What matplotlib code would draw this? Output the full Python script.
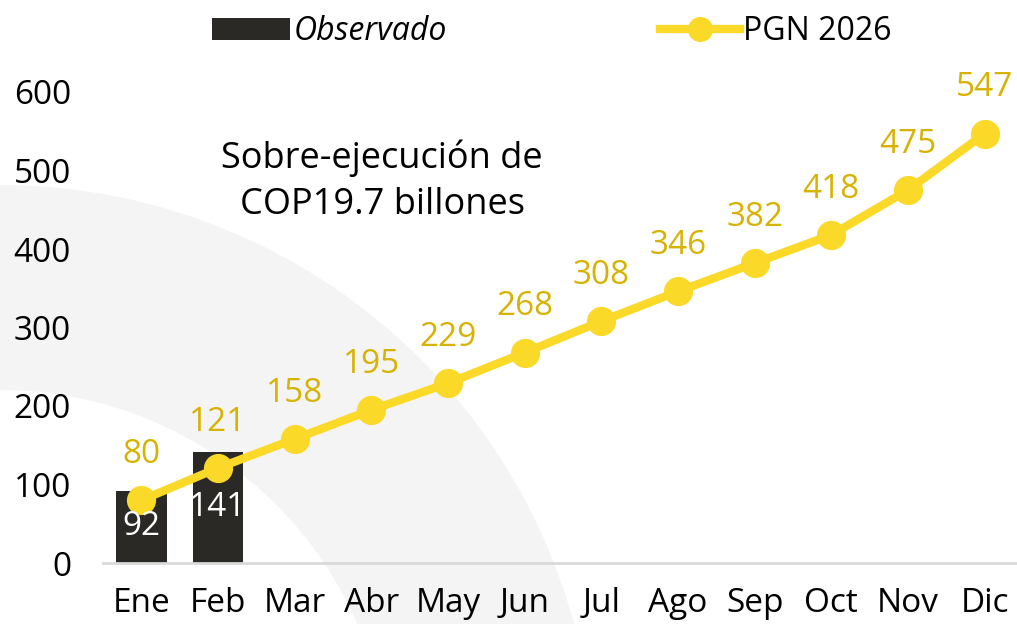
import numpy as np
from matplotlib import pyplot as plt
from matplotlib.patches import Wedge
from matplotlib.lines import Line2D
from matplotlib.patches import Patch

# Datos
meses = ["Ene", "Feb", "Mar", "Abr", "May", "Jun", "Jul", "Ago", "Sep", "Oct", "Nov", "Dic"]
observado = [92, 141]
pgn_2026 = [80, 121, 158, 195, 229, 268, 308, 346, 382, 418, 475, 547]

plt.rcParams['font.family'] = ['Open Sans', 'DejaVu Sans']

color_barra = "#2b2926"
color_linea = "#fbd928"
color_etiqueta = "#d8b200"

fig = plt.figure(figsize=(10.17, 6.24), dpi=100)

# Marca de agua de fondo (muy tenue), en un eje de fondo
fondo = fig.add_axes([0, 0, 1, 1], zorder=-1)
fondo.set_axis_off()
marca = Wedge((0, -1.56), 5.95, 0, 90, width=2.05, facecolor="#f4f4f4",
              edgecolor="none", transform=fig.dpi_scale_trans)
fondo.add_patch(marca)

ax = fig.add_axes([103 / 1017, 1 - 563 / 624, 920 / 1017, (563 - 92) / 624], zorder=1)
ax.set_facecolor("none")

x = np.arange(len(meses))
x_obs = x[:len(observado)]

ax.bar(x_obs, observado, width=0.66, color=color_barra, zorder=2)
for xi, v in zip(x_obs, observado):
    ax.text(xi, v / 2, f"{v}", ha="center", va="center", color="white", fontsize=24, zorder=4)

ax.plot(x, pgn_2026, color=color_linea, lw=6, marker="o", ms=20, zorder=3)
for xi, v in zip(x, pgn_2026):
    ax.annotate(f"{v}", (xi, v), xytext=(0, 33), textcoords="offset points",
                ha="center", va="center", color=color_etiqueta, fontsize=24,
                annotation_clip=False)

ax.set_xlim(-0.5, 11.5)
ax.set_ylim(0, 600)
ax.set_yticks(np.arange(0, 601, 100))
ax.set_xticks(x)
ax.set_xticklabels(meses)
ax.tick_params(axis="both", length=0, labelsize=24)
ax.tick_params(axis="y", pad=23)
ax.tick_params(axis="x", pad=17)
for s in ["top", "right", "left"]:
    ax.spines[s].set_visible(False)
ax.spines["bottom"].set_color("#d9d9d9")
ax.spines["bottom"].set_linewidth(2)

ax.text(3.14, 486, "Sobre-ejecución de\nCOP19.7 billones", ha="center", va="center",
        fontsize=26, linespacing=1.38, color="black")

# Leyenda (dos piezas)
h_obs = [Patch(facecolor=color_barra)]
h_pgn = [Line2D([0], [0], color=color_linea, lw=6, marker="o", ms=17)]
leg1 = fig.legend(h_obs, ["Observado"], loc="center left", bbox_to_anchor=(212 / 1017, 0.949),
                  frameon=False, fontsize=23, handlelength=2.45, handletextpad=0.1,
                  borderpad=0, borderaxespad=0)
leg1.get_texts()[0].set_style("italic")
leg2 = fig.legend(h_pgn, ["PGN 2026"], loc="center left", bbox_to_anchor=(660 / 1017, 0.949),
                  frameon=False, fontsize=23, handlelength=2.5, handletextpad=0.1,
                  borderpad=0, borderaxespad=0)

fig.savefig("out.png", dpi=100)
